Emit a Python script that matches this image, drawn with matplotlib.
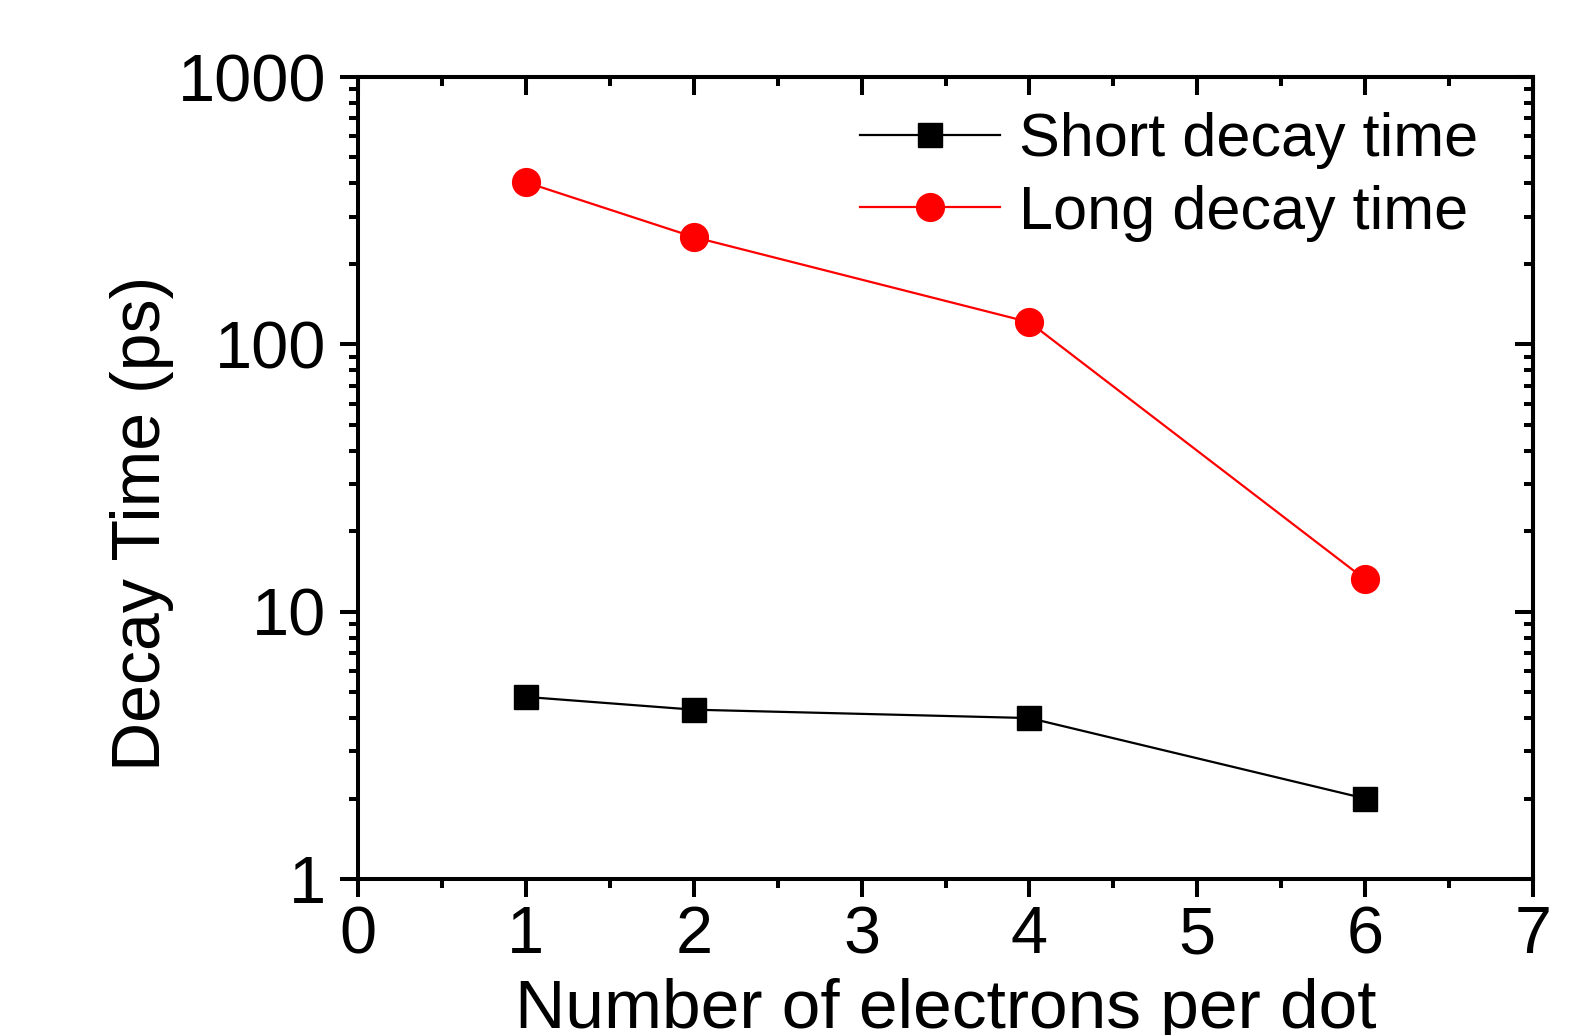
import numpy as np
import matplotlib
matplotlib.use("Agg")
import matplotlib.pyplot as plt
from matplotlib.ticker import LogLocator, MultipleLocator, NullFormatter, FixedLocator

plt.rcParams['font.family'] = ['Liberation Sans', 'DejaVu Sans']

# data
electrons = [1, 2, 4, 6]
short_decay = [4.8, 4.3, 4.0, 2.0]
long_decay = [404, 252, 121, 13.2]

fig = plt.figure(figsize=(15.73, 10.35), dpi=100)
ax = fig.add_axes([0.2276, 0.1507, 0.747, 0.7749])

ax.plot(electrons, short_decay, color='black', lw=1.6, marker='s', ms=17,
        label='Short decay time')
ax.plot(electrons, long_decay, color='red', lw=1.6, marker='o', ms=20,
        label='Long decay time')

ax.set_yscale('log')
ax.set_ylim(1, 1000)
ax.set_xlim(0, 7)

ax.xaxis.set_major_locator(MultipleLocator(1))
ax.xaxis.set_minor_locator(MultipleLocator(0.5))
ax.yaxis.set_major_locator(FixedLocator([1, 10, 100, 1000]))
ax.yaxis.set_minor_locator(LogLocator(base=10, subs=np.arange(2, 10)))
ax.yaxis.set_minor_formatter(NullFormatter())
ax.set_yticklabels(['1', '10', '100', '1000'])

for s in ax.spines.values():
    s.set_linewidth(2.9)

# outward ticks on left/bottom
ax.tick_params(axis='both', which='major', direction='out', length=13, width=2.9,
               labelsize=48, pad=6)
ax.tick_params(axis='both', which='minor', direction='out', length=6.5, width=2.9)
ax.tick_params(axis='y', which='major', pad=10)

# inward ticks on the opposite sides
axt = ax.secondary_xaxis('top')
axt.xaxis.set_major_locator(MultipleLocator(1))
axt.xaxis.set_minor_locator(MultipleLocator(0.5))
axt.tick_params(which='major', direction='in', length=13, width=2.9, labeltop=False)
axt.tick_params(which='minor', direction='in', length=6.5, width=2.9)
axt.spines['top'].set_linewidth(2.9)

axr = ax.secondary_yaxis('right')
axr.yaxis.set_major_locator(FixedLocator([1, 10, 100, 1000]))
axr.yaxis.set_minor_locator(LogLocator(base=10, subs=np.arange(2, 10)))
axr.yaxis.set_minor_formatter(NullFormatter())
axr.tick_params(which='major', direction='in', length=13, width=2.9, labelright=False)
axr.tick_params(which='minor', direction='in', length=6.5, width=2.9)
axr.spines['right'].set_linewidth(2.9)

# axis titles placed where the original has them
fig.text(946 / 1573, 1 - 1028 / 1035, 'Number of electrons per dot', fontsize=50,
         ha='center', va='baseline')
fig.text(141.5 / 1573, 1 - 523 / 1035, 'Decay Time (ps)', fontsize=49,
         rotation=90, ha='center', va='center')

ax.legend(loc='upper left', frameon=False, fontsize=44, handlelength=2.3,
          handletextpad=0.3, labelspacing=0.25, borderaxespad=0, borderpad=0,
          bbox_to_anchor=(0.427, 0.956))

fig.savefig('out.png', dpi=100)
